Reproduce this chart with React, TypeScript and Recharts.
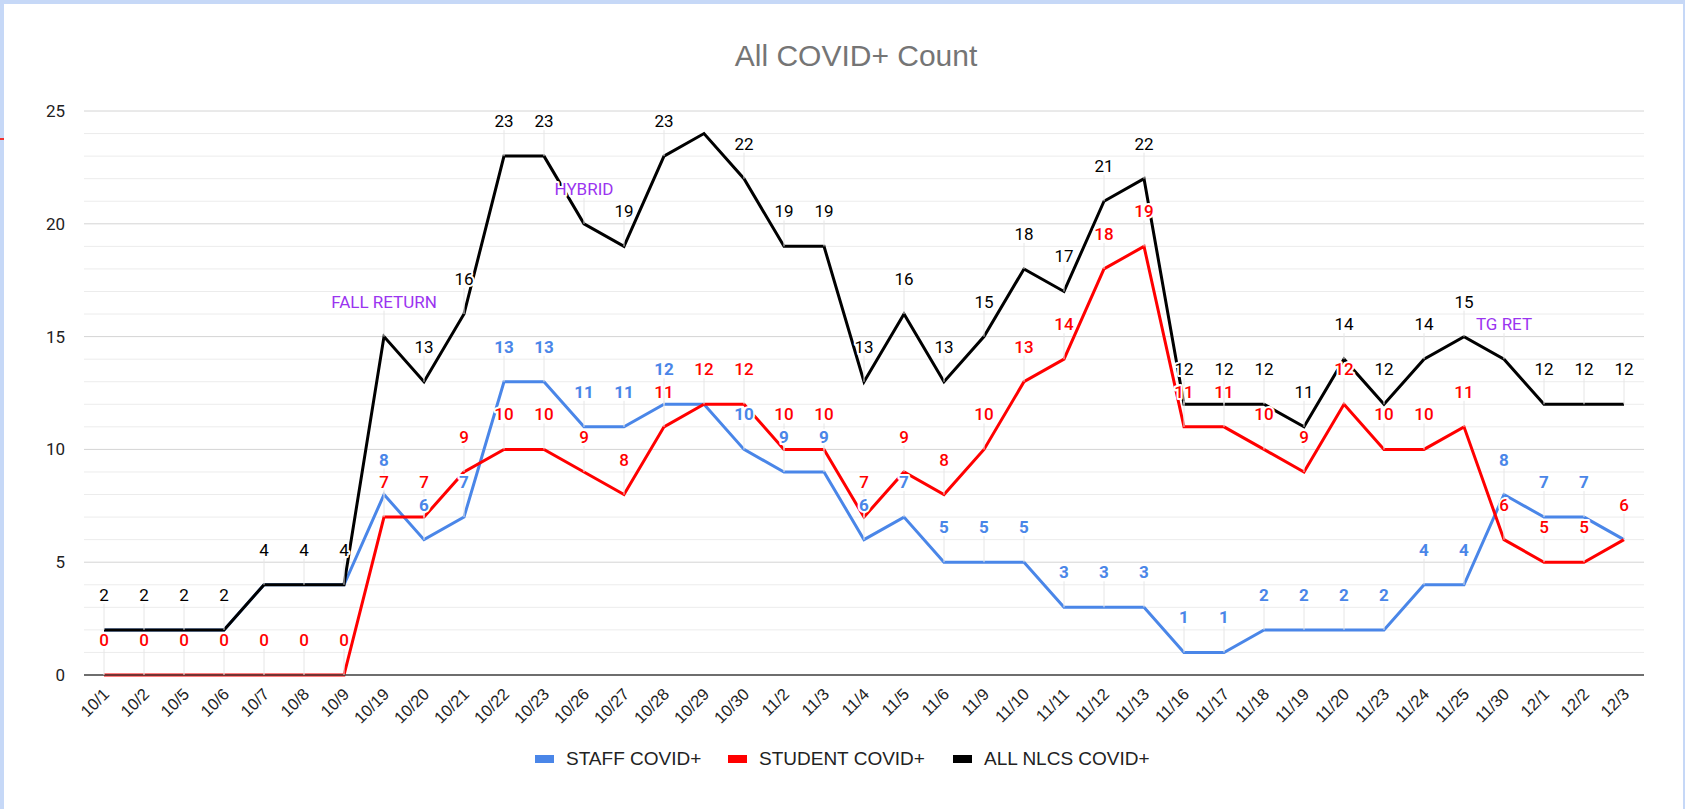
import React from 'react'
import { LineChart, Line, XAxis, YAxis, CartesianGrid, ReferenceLine } from 'recharts'

const dates = [
    '10/1', '10/2', '10/5', '10/6', '10/7', '10/8', '10/9', '10/19', '10/20', '10/21',
    '10/22', '10/23', '10/26', '10/27', '10/28', '10/29', '10/30', '11/2', '11/3', '11/4',
    '11/5', '11/6', '11/9', '11/10', '11/11', '11/12', '11/13', '11/16', '11/17', '11/18',
    '11/19', '11/20', '11/23', '11/24', '11/25', '11/30', '12/1', '12/2', '12/3'
]
const staffCovid = [
    2, 2, 2, 2, 4, 4, 4, 8, 6, 7, 13, 13, 11, 11, 12, 12, 10, 9, 9, 6,
    7, 5, 5, 5, 3, 3, 3, 1, 1, 2, 2, 2, 2, 4, 4, 8, 7, 7, 6
]
const studentCovid = [
    0, 0, 0, 0, 0, 0, 0, 7, 7, 9, 10, 10, 9, 8, 11, 12, 12, 10, 10, 7,
    9, 8, 10, 13, 14, 18, 19, 11, 11, 10, 9, 12, 10, 10, 11, 6, 5, 5, 6
]
const allCovid = [
    2, 2, 2, 2, 4, 4, 4, 15, 13, 16, 23, 23, 20, 19, 23, 24, 22, 19, 19, 13,
    16, 13, 15, 18, 17, 21, 22, 12, 12, 12, 11, 14, 12, 14, 15, 14, 12, 12, 12
]
// labels that the original chart hides (overlapping annotations)
const staffHidden = ['10/1', '10/2', '10/5', '10/6', '10/7', '10/8', '10/9', '10/29', '12/3']
const allHidden = ['10/29']
const allNotes: Record<string, string> = {
    '10/19': 'FALL RETURN',
    '10/26': 'HYBRID',
    '11/30': 'TG RET'
}
const yTicks = [0, 5, 10, 15, 20, 25]
const minorTicks = [1, 2, 3, 4, 6, 7, 8, 9, 11, 12, 13, 14, 16, 17, 18, 19, 21, 22, 23, 24]

const data = dates.map((date, i) => ({
    date,
    staff: staffCovid[i],
    student: studentCovid[i],
    all: allCovid[i],
    staffLabel: staffHidden.includes(date) ? '' : String(staffCovid[i]),
    studentLabel: String(studentCovid[i]),
    allLabel: allHidden.includes(date) ? '' : allNotes[date] ?? String(allCovid[i])
}))

const series = [
    { key: 'staff', labelKey: 'staffLabel', name: 'STAFF COVID+', color: '#4a86e8', weight: 700 },
    { key: 'student', labelKey: 'studentLabel', name: 'STUDENT COVID+', color: '#ff0000', weight: 500 },
    { key: 'all', labelKey: 'allLabel', name: 'ALL NLCS COVID+', color: '#000000', weight: 400 }
]
const legendLeft = [535, 728, 953]

const NOTE_COLOR = '#9b34f0'

const stemDot = (labelKey: string) => (props: any) => {
    const { cx, cy, payload, index } = props
    const text = payload && payload[labelKey]
    if (!text || cx == null || cy == null) return <g key={`stem-${labelKey}-${index}`} />
    return (
        <line
            key={`stem-${labelKey}-${index}`}
            x1={cx}
            x2={cx}
            y1={cy}
            y2={cy - 26}
            stroke="#e6e6e6"
            strokeWidth={1}
        />
    )
}

const labelDot = (labelKey: string, color: string, weight: number) => (props: any) => {
    const { cx, cy, payload, index } = props
    const text = payload && payload[labelKey]
    if (!text || cx == null || cy == null) return <g key={`lbl-${labelKey}-${index}`} />
    const isNote = labelKey === 'allLabel' && allNotes[payload.date]
    return (
        <text
            key={`lbl-${labelKey}-${index}`}
            x={cx}
            y={cy - 35}
            textAnchor="middle"
            dominantBaseline="central"
            fontFamily="Roboto, Arial, sans-serif"
            fontSize={17}
            fontWeight={isNote ? 400 : weight}
            fill={isNote ? NOTE_COLOR : color}
            stroke="#ffffff"
            strokeWidth={4}
            strokeLinejoin="round"
            paintOrder="stroke"
        >
            {text}
        </text>
    )
}

const DateTick = (props: any) => {
    const { x, y, payload } = props
    return (
        <g transform={`translate(${x + 2},${y + 16}) rotate(-45)`}>
            <text
                textAnchor="end"
                dominantBaseline="central"
                fontFamily="'Liberation Sans', Arial, sans-serif"
                fontSize={16.5}
                fill="#222222"
            >
                {payload.value}
            </text>
        </g>
    )
}

const App: React.FC = () => {
    return (
        <div
            style={{
                position: 'absolute',
                left: 0,
                top: 0,
                width: 1685,
                height: 809,
                background: '#c6d8f7',
                overflow: 'hidden'
            }}
        >
            <div style={{ position: 'absolute', left: 0, top: 138, width: 4, height: 2, background: '#e33' }} />
            <div
                style={{
                    position: 'absolute',
                    left: 4,
                    top: 4,
                    width: 1679,
                    height: 805,
                    background: '#ffffff'
                }}
            />
            <div
                style={{
                    position: 'absolute',
                    left: 556,
                    top: 40,
                    width: 600,
                    textAlign: 'center',
                    fontFamily: "'Liberation Sans', Arial, sans-serif",
                    fontSize: 30,
                    lineHeight: '32px',
                    color: '#757575'
                }}
            >
                All COVID+ Count
            </div>
            <div style={{ position: 'absolute', left: 0, top: 0 }}>
                <LineChart
                    width={1685}
                    height={809}
                    data={data}
                    margin={{ top: 111, right: 41, bottom: 94, left: 24 }}
                >
                    <CartesianGrid vertical={false} stroke="#d4d4d4" />
                    {minorTicks.map(v => (
                        <ReferenceLine key={v} y={v} stroke="#ececec" strokeWidth={1} />
                    ))}
                    <XAxis
                        dataKey="date"
                        height={40}
                        interval={0}
                        padding={{ left: 20, right: 20 }}
                        tick={<DateTick />}
                        tickLine={false}
                        tickSize={0}
                        tickMargin={0}
                        axisLine={{ stroke: '#444444', strokeWidth: 1.5 }}
                    />
                    <YAxis
                        width={60}
                        domain={[0, 25]}
                        ticks={yTicks}
                        axisLine={false}
                        tickLine={false}
                        tickSize={0}
                        tickMargin={19}
                        tick={{ fontFamily: 'Roboto, Arial, sans-serif', fontSize: 17, fill: '#222222' }}
                    />
                    {series.map(s => (
                        <Line
                            key={`${s.key}-stem`}
                            dataKey={s.key}
                            stroke="none"
                            dot={stemDot(s.labelKey)}
                            activeDot={false}
                            legendType="none"
                            isAnimationActive={false}
                        />
                    ))}
                    {series.map(s => (
                        <Line
                            key={s.key}
                            dataKey={s.key}
                            name={s.name}
                            stroke={s.color}
                            strokeWidth={3}
                            dot={false}
                            activeDot={false}
                            isAnimationActive={false}
                        />
                    ))}
                    {series.map(s => (
                        <Line
                            key={`${s.key}-label`}
                            dataKey={s.key}
                            stroke="none"
                            dot={labelDot(s.labelKey, s.color, s.weight)}
                            activeDot={false}
                            legendType="none"
                            isAnimationActive={false}
                        />
                    ))}
                </LineChart>
            </div>
            {series.map((s, i) => (
                <div
                    key={s.key}
                    style={{
                        position: 'absolute',
                        left: legendLeft[i],
                        top: 748,
                        display: 'flex',
                        alignItems: 'center',
                        fontFamily: "'Liberation Sans', Arial, sans-serif",
                        fontSize: 19,
                        color: '#222222',
                        whiteSpace: 'nowrap'
                    }}
                >
                    <span style={{ display: 'inline-block', width: 19, height: 8, background: s.color, marginRight: 12 }} />
                    {s.name}
                </div>
            ))}
        </div>
    )
}

export default App
